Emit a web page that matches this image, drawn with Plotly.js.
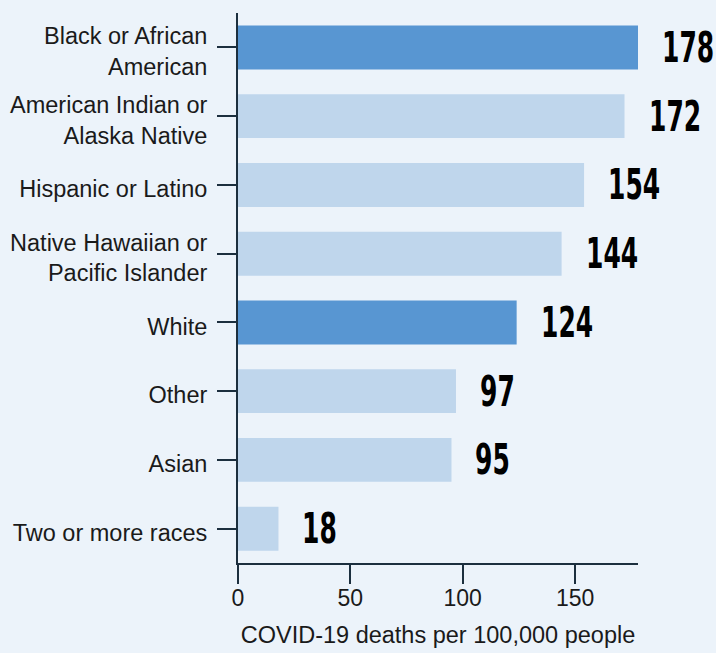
<!DOCTYPE html>
<html>
<head>
<meta charset="utf-8">
<script src="https://cdn.plot.ly/plotly-3.0.1.min.js"></script>
<style>
html,body{margin:0;padding:0;background:#ECF3FA;}
#chart .annotation-text{transform-box:fill-box;transform-origin:center;transform:scaleY(1.7);}
</style>
</head>
<body>
<div id="chart" style="width:716px;height:653px;"></div>
<script>
const categories = ["Black or African<br>American", "American Indian or<br>Alaska Native", "Hispanic or Latino", "Native Hawaiian or<br>Pacific Islander", "White", "Other", "Asian", "Two or more races"];
const deaths = [178, 172, 154, 144, 124, 97, 95, 18];
const highlighted = [true, false, false, false, true, false, false, false];
const xTickVals = [0, 50, 100, 150];
const xTitle = "COVID-19 deaths per 100,000 people";

const darkBlue = "#5896D2";
const lightBlue = "#BFD6EC";
const axisColor = "#1c2f3e";

const trace = {
  type: "bar",
  orientation: "h",
  x: deaths,
  y: categories,
  width: 0.64,
  marker: { color: highlighted.map(h => h ? darkBlue : lightBlue) },
  hoverinfo: "skip"
};

const annotations = deaths.map((v, i) => ({
  x: v, y: categories[i], xref: "x", yref: "y",
  text: String(v), showarrow: false, xanchor: "left", yanchor: "middle",
  xshift: 22,
  font: { family: "DejaVu Sans", stretch: "condensed", size: 25, color: "#000", weight: "bold" }
}));

const layout = {
  width: 716, height: 653,
  paper_bgcolor: "#ECF3FA", plot_bgcolor: "#ECF3FA",
  margin: { l: 238, r: 78, t: 13, b: 90 },
  showlegend: false,
  font: { family: "Liberation Sans, Arial, sans-serif", size: 23, color: "#1a1a1a" },
  xaxis: {
    range: [0, 178], tickvals: xTickVals, showgrid: false, zeroline: false,
    showline: true, linecolor: axisColor, linewidth: 2,
    ticks: "outside", ticklen: 19, tickwidth: 2, tickcolor: axisColor,
    tickfont: { size: 23 }, ticklabelstandoff: -6,
    title: { text: xTitle, font: { size: 23.5 }, standoff: 17 }
  },
  yaxis: {
    autorange: "reversed", showgrid: false, zeroline: false,
    showline: true, linecolor: axisColor, linewidth: 2,
    ticks: "outside", ticklen: 19, tickwidth: 2, tickcolor: axisColor,
    tickfont: { size: 23.5 }, ticklabelstandoff: 5, ticklabelshift: -4
  },
  annotations: annotations
};

Plotly.newPlot("chart", [trace], layout, { displayModeBar: false, staticPlot: true });
</script>
</body>
</html>
